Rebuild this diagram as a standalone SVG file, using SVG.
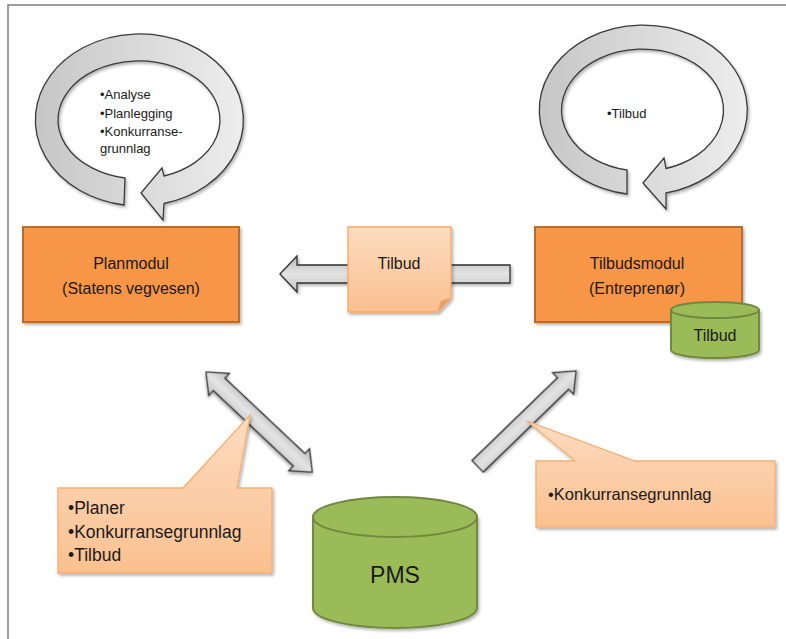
<svg xmlns="http://www.w3.org/2000/svg" width="786" height="639" viewBox="0 0 786 639">
<defs>
<style>
text{font-family:"Liberation Sans",Arial,sans-serif;fill:#1a1a1a}
.box{fill:#F79646;stroke:#B66D31;stroke-width:2}
.cyl{fill:#9BBB59;stroke:#71893F;stroke-width:2}
.loop{fill:url(#gLoop);stroke:#3a3a3a;stroke-width:1.3}
.arr{fill:url(#gArr);stroke:#333;stroke-width:1.3}
.call{fill:url(#gPeach);stroke:#F9AE72;stroke-width:1.3}
.lbl{font-size:16px;text-anchor:middle}
</style>
<linearGradient id="gLoop" x1="0" y1="0" x2="1" y2="0">
<stop offset="0" stop-color="#c6c6c6"/><stop offset="1" stop-color="#ededed"/>
</linearGradient>
<linearGradient id="gArr" x1="0" y1="0" x2="0" y2="1">
<stop offset="0" stop-color="#b8b8b8"/><stop offset="0.5" stop-color="#e4e4e4"/><stop offset="1" stop-color="#c4c4c4"/>
</linearGradient>
<linearGradient id="gPeach" x1="0" y1="0" x2="0" y2="1">
<stop offset="0" stop-color="#FDDCC0"/><stop offset="1" stop-color="#FAC08F"/>
</linearGradient>
<filter id="sh" x="-20%" y="-20%" width="140%" height="140%">
<feDropShadow dx="1.5" dy="2" stdDeviation="1.8" flood-color="#000" flood-opacity="0.3"/>
</filter>
</defs>
<rect width="786" height="639" fill="#fff"/>
<path d="M8,639 V5 H786" fill="none" stroke="#7f7f7f" stroke-width="1.5"/>

<g id="loop-plan">
<path class="loop" filter="url(#sh)" d="M124,205 A104,86 0 1 1 164,203.5 L163,220 L141,193 L162,168 L164,176 A81,59 0 1 0 125,178 Z"/>
<text font-size="13"><tspan x="100" y="98.5">•Analyse</tspan><tspan x="100" y="117.5">•Planlegging</tspan><tspan x="100" y="135.5">•Konkurranse-</tspan><tspan x="100" y="152.5">grunnlag</tspan></text>
</g>

<g id="loop-tilbud">
<path class="loop" filter="url(#sh)" d="M627,194 A104,85 0 1 1 666,193 L666,209 L643,183 L664,158 L666,168.5 A81,61 0 1 0 627,170 Z"/>
<text font-size="13" x="607" y="117.5">•Tilbud</text>
</g>

<g id="connectors">
<polygon class="arr" filter="url(#sh)" points="280,274 297,256 297,265 510,265 510,283 297,283 297,292"/>
<g transform="translate(206,372) rotate(43.3)">
<polygon class="arr" filter="url(#sh)" points="0,0 18,-15 18,-8.5 128,-8.5 128,-15 146,0 128,15 128,8.5 18,8.5 18,15"/>
</g>
<g transform="translate(576,371) rotate(-44.1)">
<polygon class="arr" filter="url(#sh)" points="-137,-8 -18,-8 -18,-15 0,0 -18,15 -18,8 -137,8"/>
</g>
</g>

<g id="planmodul">
<rect class="box" filter="url(#sh)" x="23" y="227" width="216" height="95"/>
<text class="lbl" x="131" y="268.5">Planmodul</text>
<text class="lbl" x="131" y="293.5">(Statens vegvesen)</text>
</g>

<g id="tilbudsmodul">
<rect class="box" filter="url(#sh)" x="535" y="227" width="207" height="95"/>
<text class="lbl" x="637" y="268.5">Tilbudsmodul</text>
<text class="lbl" x="637" y="293.5">(Entreprenør)</text>
</g>

<g id="tilbud-db">
<path class="cyl" filter="url(#sh)" d="M671,310 V350 A44,8 0 0 0 759,350 V310 Z"/>
<ellipse class="cyl" cx="715" cy="310" rx="44" ry="8"/>
<text class="lbl" x="715" y="340.5">Tilbud</text>
</g>

<g id="tilbud-note">
<path filter="url(#sh)" d="M348,227 H451 V298 L438,312 H348 Z" fill="url(#gPeach)" stroke="#F9A868" stroke-width="1.3"/>
<path d="M451,298 L438,312 L441,301 Z" fill="#E0A070" stroke="#F9A868" stroke-width="1"/>
<text class="lbl" x="399" y="268.5">Tilbud</text>
</g>

<g id="pms">
<path class="cyl" filter="url(#sh)" d="M313,517 V608 A82,20 0 0 0 477,608 V517 Z"/>
<ellipse class="cyl" cx="395" cy="517" rx="82" ry="20"/>
<text x="395" y="583" font-size="23" text-anchor="middle">PMS</text>
</g>

<g id="callout-left">
<path class="call" filter="url(#sh)" d="M58,488 H183 L250,415 L237,488 H272 V573 H58 Z"/>
<text font-size="17.5"><tspan x="68" y="514">•Planer</tspan><tspan x="68" y="538">•Konkurransegrunnlag</tspan><tspan x="68" y="561">•Tilbud</tspan></text>
</g>

<g id="callout-right">
<path class="call" filter="url(#sh)" d="M536,461 H575 L527,421 L635,461 H775 V527 H536 Z"/>
<text font-size="16.5" x="548" y="500">•Konkurransegrunnlag</text>
</g>
</svg>
